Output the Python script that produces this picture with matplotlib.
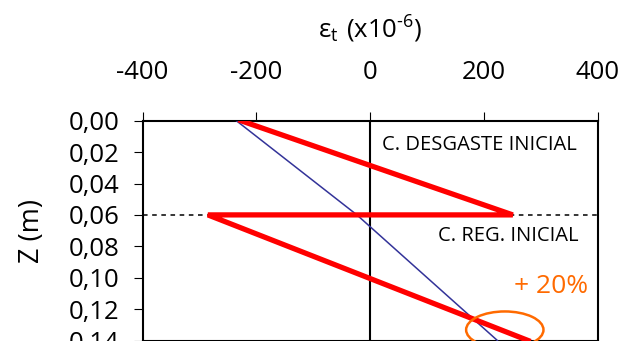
import matplotlib
matplotlib.use("Agg")
import matplotlib.pyplot as plt
from matplotlib.patches import Ellipse

plt.rcParams['font.family'] = ['Open Sans', 'DejaVu Sans']
plt.rcParams['mathtext.fontset'] = 'custom'
plt.rcParams['mathtext.rm'] = 'Open Sans'

# data
red_strain = [-227, 251, -285, 278]
red_z = [0.0, 0.06, 0.06, 0.14]
blue_strain = [-235, -23, 224]
blue_z = [0.0, 0.06, 0.14]
x_ticks = [-400, -200, 0, 200, 400]
y_ticks = [0.00, 0.02, 0.04, 0.06, 0.08, 0.10, 0.12, 0.14]
y_ticklabels = ['0,00', '0,02', '0,04', '0,06', '0,08', '0,10', '0,12', '0,14']
interface_z = 0.06
label_top = 'C. DESGASTE INICIAL'
label_bottom = 'C. REG. INICIAL'
label_pct = '+ 20%'
ellipse_center = (237, 0.1332)
ellipse_size = (136, 0.0234)

W, H = 624, 341
fig = plt.figure(figsize=(W / 100, H / 100), dpi=100)
ax = fig.add_axes([142.5 / W, 1 - 340.5 / H, (597.5 - 142.5) / W, (340.5 - 120.7) / H])

ax.set_xlim(-400, 400)
ax.set_ylim(0.14, 0.0)

ax.plot(blue_strain, blue_z, color='#333399', lw=1.1, zorder=3)
ax.axhline(interface_z, color='black', lw=1.1, ls=(0, (3, 3)), zorder=2)
ax.axvline(0, color='black', lw=1.5, zorder=2)
ax.plot(red_strain, red_z, color='#FF0000', lw=3.8, solid_joinstyle='miter', zorder=4)

ell = Ellipse(ellipse_center, ellipse_size[0], ellipse_size[1], fill=False,
              edgecolor='#FF6A00', lw=1.8, clip_on=False, zorder=5)
ax.add_patch(ell)

ax.text(21.5, 0.0186, label_top, fontsize=14.5, ha='left', va='baseline', color='black')
ax.text(367, 0.0764, label_bottom, fontsize=14.5, ha='right', va='baseline', color='black')
ax.text(384, 0.1097, label_pct, fontsize=19, ha='right', va='baseline', color='#FF6A00')

ax.xaxis.tick_top()
ax.xaxis.set_label_position('top')
ax.set_xticks(x_ticks)
ax.set_xticklabels([str(v) for v in x_ticks])
ax.set_yticks(y_ticks)
ax.set_yticklabels(y_ticklabels)
ax.tick_params(axis='x', direction='out', length=6.5, width=0.8, pad=19, labelsize=18.5)
ax.tick_params(axis='y', direction='out', length=6.5, width=0.8, pad=10, labelsize=18.5)
ax.set_xlabel(r'$\mathregular{\varepsilon_t\ (x10^{\text{-}6})}$', fontsize=18.5, labelpad=16)
ax.set_ylabel('Z (m)', fontsize=19.5, labelpad=16)

for s in ax.spines.values():
    s.set_linewidth(1.5)
    s.set_color('black')

fig.savefig('out.png', dpi=100)
